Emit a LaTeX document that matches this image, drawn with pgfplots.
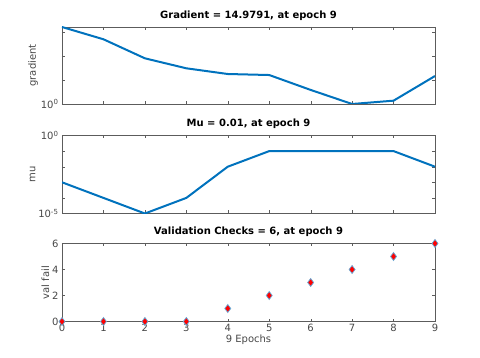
\documentclass[border=0pt]{standalone}
\usepackage{fontspec}
\setmainfont{DejaVu Sans}
\usepackage{pgfplots}
\pgfplotsset{compat=1.18}
\definecolor{mlblue}{rgb}{0,0.447,0.741}
\definecolor{axgray}{rgb}{0.15,0.15,0.15}

\pgfplotsset{
  nnpanel/.style={
    scale only axis, width=373pt,
    xmin=0, xmax=9, xtick={0,...,9},
    axis line style={axgray!75},
    tick align=inside, major tick length=3pt,
    tick style={axgray!75},
    ticklabel style={font=\fontsize{10}{11}\selectfont, text=axgray!85},
    /pgf/number format/assume math mode=true,
    title style={font=\bfseries\fontsize{10}{11}\selectfont, yshift=-3pt},
    ylabel style={font=\fontsize{10}{11}\selectfont, text=axgray!85, yshift=-4pt},
    xlabel style={font=\fontsize{10}{11}\selectfont, text=axgray!85},
    yminorticks=false,
  },
}

\begin{document}
\begin{tikzpicture}
\useasboundingbox (0pt,0pt) rectangle (480pt,-358pt);

% gradient
\begin{axis}[nnpanel, at={(62pt,-27pt)}, anchor=north west, height=77pt,
  ymode=log, ymin=1, ymax=1718,
  ytick={1,10,100,1000}, yticklabels={10\textsuperscript{0},,,},
  xticklabels={},
  ylabel={gradient},
  title={Gradient = 14.9791, at epoch 9}]
\addplot[mlblue, line width=2pt] coordinates {
  (0,1718) (1,524) (2,83) (3,31.6) (4,18.2) (5,16.5) (6,3.9) (7,1.0) (8,1.38) (9,14.9791)
};
\end{axis}

% mu
\begin{axis}[nnpanel, at={(62pt,-135.5pt)}, anchor=north west, height=78pt,
  ymode=log, ymin=1e-5, ymax=1,
  ytick={1e-5,1e-4,1e-3,1e-2,1e-1,1},
  yticklabels={10\textsuperscript{-5},,,,,10\textsuperscript{0}},
  xticklabels={},
  ylabel={mu},
  title={Mu = 0.01, at epoch 9}]
\addplot[mlblue, line width=2pt] coordinates {
  (0,1e-3) (1,1e-4) (2,1e-5) (3,1e-4) (4,1e-2) (5,0.1) (6,0.1) (7,0.1) (8,0.1) (9,0.01)
};
\end{axis}

% validation checks
\begin{axis}[nnpanel, at={(62pt,-243.5pt)}, anchor=north west, height=78pt,
  ymin=0, ymax=6, ytick={0,2,4,6},
  clip=false,
  ylabel={val fail},
  xlabel={9 Epochs},
  xticklabel style={yshift=1pt},
  xlabel style={yshift=4pt},
  title={Validation Checks = 6, at epoch 9}]
\addplot[only marks, mark=diamond*, mark size=4pt,
  mark options={fill=red, draw=mlblue!60, line width=0.7pt}] coordinates {
  (0,0) (1,0) (2,0) (3,0) (4,1) (5,2) (6,3) (7,4) (8,5) (9,6)
};
\end{axis}
\end{tikzpicture}
\end{document}
